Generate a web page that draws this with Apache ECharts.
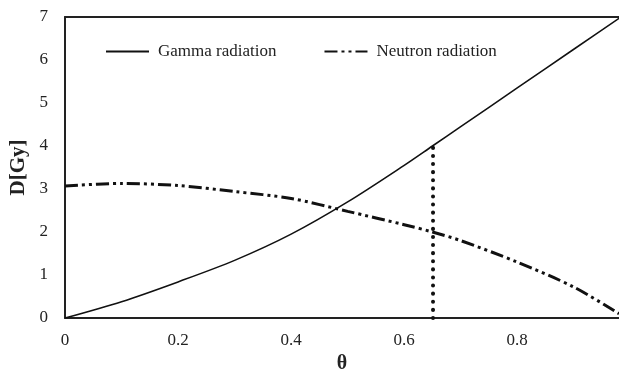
<!DOCTYPE html>
<html>
<head>
<meta charset="utf-8">
<script src="https://cdn.jsdelivr.net/npm/echarts@6/dist/echarts.min.js"></script>
<style>
  html, body { margin: 0; padding: 0; background: #fff; }
  #chart { width: 619px; height: 371px; }
</style>
</head>
<body>
<div id="chart"></div>
<script>
const theta = [0, 0.1, 0.2, 0.3, 0.4, 0.5, 0.6, 0.65, 0.7, 0.8, 0.9, 0.98];
const gammaDose = [0, 0.38, 0.84, 1.34, 1.95, 2.7, 3.55, 4.0, 4.45, 5.35, 6.25, 6.97];
const neutronDose = [3.07, 3.13, 3.08, 2.94, 2.78, 2.48, 2.17, 2.0, 1.8, 1.3, 0.72, 0.1];
const markerTheta = 0.651;
const markerDose = [0, 4.02];
const yTicks = [0, 1, 2, 3, 4, 5, 6, 7];

const font = 'Liberation Serif';
const pair = (xs, ys) => xs.map((x, i) => [x, ys[i]]);

const chart = echarts.init(document.getElementById('chart'));
chart.setOption({
  animation: false,
  textStyle: { fontFamily: font },
  grid: { left: 65, right: 0, top: 17, bottom: 53, containLabel: false, outerBoundsMode: 'none' },
  legend: {
    left: 100,
    top: 38,
    itemWidth: 43,
    itemHeight: 14,
    itemGap: 47,
    itemStyle: { color: 'transparent', borderColor: 'transparent', borderWidth: 0 },
    data: ['Gamma radiation', 'Neutron radiation'],
    textStyle: { fontFamily: font, fontSize: 17, color: '#222', padding: [0, 0, 0, 4] }
  },
  xAxis: [
    {
      type: 'value',
      min: 0,
      max: 0.98,
      interval: 0.2,
      name: 'θ',
      nameLocation: 'middle',
      nameGap: 34,
      nameTextStyle: { fontFamily: font, fontSize: 20, fontWeight: 'bold', color: '#222' },
      axisLine: { lineStyle: { color: '#222', width: 2 } },
      axisTick: { show: false },
      splitLine: { show: false },
      axisLabel: {
        fontFamily: font, fontSize: 17, color: '#222', margin: 14,
        formatter: v => (Math.abs(v / 0.2 - Math.round(v / 0.2)) < 1e-6 ? String(+v.toFixed(1)) : '')
      }
    },
    {
      type: 'value',
      position: 'top',
      min: 0,
      max: 0.98,
      axisLine: { show: true, lineStyle: { color: '#222', width: 2 } },
      axisTick: { show: false },
      axisLabel: { show: false },
      splitLine: { show: false }
    }
  ],
  yAxis: {
    type: 'value',
    min: yTicks[0],
    max: yTicks[yTicks.length - 1],
    interval: 1,
    name: 'D[Gy]',
    nameLocation: 'middle',
    nameGap: 36,
    nameTextStyle: { fontFamily: font, fontSize: 21, fontWeight: 'bold', color: '#222' },
    axisLine: { show: true, lineStyle: { color: '#222', width: 2 } },
    axisTick: { show: false },
    splitLine: { show: false },
    axisLabel: { fontFamily: font, fontSize: 17, color: '#222', margin: 17 }
  },
  series: [
    {
      name: 'Gamma radiation',
      type: 'line',
      smooth: 0.3,
      showSymbol: false,
      symbol: 'none',
      color: '#111',
      lineStyle: { color: '#111', width: 1.6 },
      data: pair(theta, gammaDose)
    },
    {
      name: 'Neutron radiation',
      type: 'line',
      smooth: 0.3,
      showSymbol: false,
      symbol: 'none',
      color: '#111',
      lineStyle: { color: '#111', width: 3, type: [13, 4, 3, 4, 3, 4] },
      data: pair(theta, neutronDose)
    },
    {
      name: 'marker',
      type: 'line',
      showSymbol: false,
      symbol: 'none',
      lineStyle: { color: '#111', width: 4, type: [0.1, 8], cap: 'round' },
      data: markerDose.map(d => [markerTheta, d])
    }
  ]
});
</script>
</body>
</html>
